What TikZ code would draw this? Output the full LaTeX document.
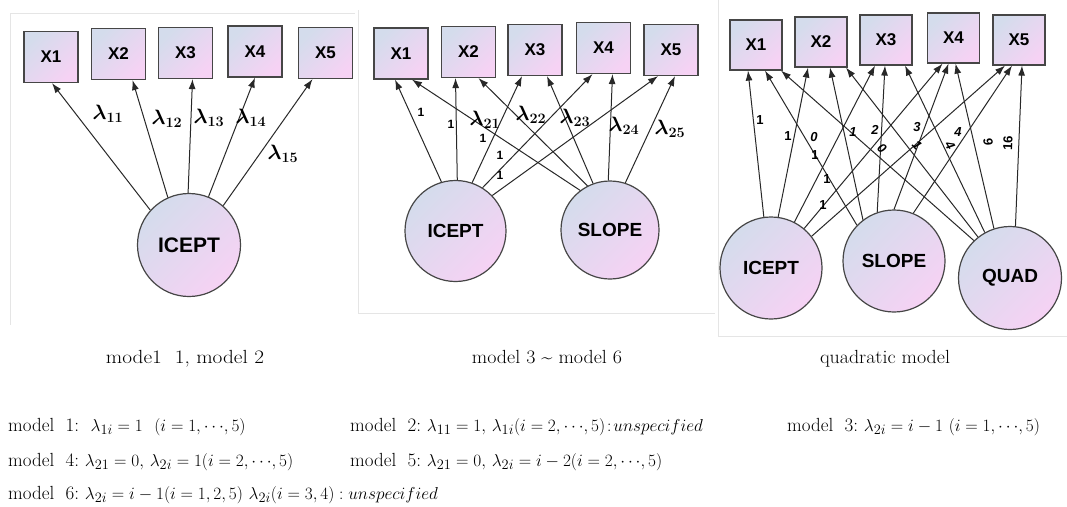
\documentclass[tikz,border=0pt]{standalone}
\usepackage{fontspec}
\usepackage{amsmath,amssymb}
\newfontfamily\arial{Liberation Sans}
\usetikzlibrary{arrows.meta}
\definecolor{gA}{RGB}{212,220,236}
\definecolor{gB}{RGB}{246,210,244}
\definecolor{ln}{RGB}{40,40,40}
\definecolor{bd}{RGB}{70,70,70}
\tikzset{
 obs/.style={draw=bd, line width=1.2pt, minimum width=54pt, minimum height=51pt, top color=gA, bottom color=gB, shading angle=45, font=\arial\bfseries\fontsize{17}{17}\selectfont, inner sep=0pt},
 lat/.style={circle, draw=bd, line width=1.2pt, minimum size=101pt, top color=gA, bottom color=gB, shading angle=45, font=\arial\bfseries\fontsize{19}{19}\selectfont, inner sep=0pt},
 arr/.style={-{Latex[length=10pt,width=7pt]}, line width=1pt, draw=ln},
 lam/.style={font=\fontsize{20}{20}\selectfont\boldmath, inner sep=0pt},
 one/.style={font=\arial\bfseries\fontsize{12}{12}\selectfont, inner sep=0pt},
 onep/.style={font=\arial\bfseries\fontsize{13}{13}\selectfont, inner sep=0pt},
 onei/.style={font=\arial\bfseries\itshape\fontsize{13}{13}\selectfont, inner sep=0pt},
 captxt/.style={font=\fontsize{19}{19}\selectfont, inner sep=0pt, anchor=base},
 eq/.style={anchor=base west, font=\fontsize{19}{19}\selectfont, inner sep=0pt},
 frame/.style={draw=black!10, line width=0.8pt}
}
\begin{document}
\begin{tikzpicture}[x=1pt,y=-1pt]
\useasboundingbox (0,0) rectangle (1067,506);
\fill[white] (0,0) rectangle (1067,506);
% faint panel frames
\draw[frame] (10,13) -- (10,325);
\draw[frame] (10,13) -- (355,13);
\draw[frame] (358,10) -- (358,313) -- (715,313);
\draw[frame] (718,0) -- (718,336) -- (1067,336);

% ---------- panel 1 ----------
\node[obs] (a1) at (51,57) {X1};
\node[obs] (a2) at (118.5,54) {X2};
\node[obs] (a3) at (185.5,53) {X3};
\node[obs] (a4) at (255,51.5) {X4};
\node[obs] (a5) at (325.5,53) {X5};
\node[lat, minimum size=103pt, font=\arial\bfseries\fontsize{21}{21}\selectfont] (ai) at (189,245) {ICEPT};
\draw[arr] (ai.138) -- ([xshift=1pt]a1.south);
\draw[arr] (ai.114) -- ([xshift=14pt]a2.south);
\draw[arr] (ai.91) -- ([xshift=7pt]a3.south);
\draw[arr] (ai.68) -- (a4.south);
\draw[arr] (ai.49) -- ([xshift=-13pt]a5.south);
\node[lam] (l11) at (108,114) {$\lambda_{11}$};
\node[lam] (l12) at (167,119) {$\lambda_{12}$};
\node[lam] (l13) at (209,118) {$\lambda_{13}$};
\node[lam] (l14) at (251,118) {$\lambda_{14}$};
\node[lam] (l15) at (283,154) {$\lambda_{15}$};
\node[captxt] (c1) at (185,363) {\scalebox{1.12}[1]{mode1\ \ 1, model 2}};

% ---------- panel 2 ----------
\node[obs] (b1) at (401,53.5) {X1};
\node[obs] (b2) at (468.5,52) {X2};
\node[obs] (b3) at (535,50) {X3};
\node[obs] (b4) at (603.5,48) {X4};
\node[obs] (b5) at (671,50) {X5};
\node[lat] (bi) at (455.5,231) {ICEPT};
\node[lat, minimum size=98pt] (bs) at (610,230) {SLOPE};
\draw[arr] (bi.106) -- ([xshift=-6pt]b1.south);
\draw[arr] (bi.88) -- ([xshift=-13pt]b2.south);
\draw[arr] (bi.71) -- ([xshift=-13pt]b3.south);
\draw[arr] (bi.58) -- ([xshift=-11pt]b4.south);
\draw[arr] (bi.44) -- ([xshift=-13pt]b5.south);
\draw[arr] (bs.127) -- ([xshift=11pt]b1.south);
\draw[arr] (bs.117) -- ([xshift=10pt]b2.south);
\draw[arr] (bs.110) -- ([xshift=12pt]b3.south);
\draw[arr] (bs.92) -- ([xshift=9pt]b4.south);
\draw[arr] (bs.72) -- ([xshift=4pt]b5.south);
\node[one] (o1) at (421,112) {1};
\node[one] (o2) at (451,124) {1};
\node[one] (o3) at (483,138) {1};
\node[one] (o4) at (500,155) {1};
\node[one] (o5) at (500,175) {1};
\node[lam] (l21) at (485,120) {$\lambda_{21}$};
\node[lam] (l22) at (531,115) {$\lambda_{22}$};
\node[lam] (l23) at (575,118) {$\lambda_{23}$};
\node[lam] (l24) at (624,126) {$\lambda_{24}$};
\node[lam] (l25) at (670,129) {$\lambda_{25}$};
\node[captxt] (c2) at (547,363) {\scalebox{1.05}[1]{model 3 \textasciitilde\ model 6}};

% ---------- panel 3 ----------
\node[obs, minimum width=52pt, minimum height=50pt] (q1) at (756,45) {X1};
\node[obs, minimum width=52pt, minimum height=50pt] (q2) at (821,42) {X2};
\node[obs, minimum width=52pt, minimum height=50pt] (q3) at (886,40) {X3};
\node[obs, minimum width=52pt, minimum height=50pt] (q4) at (953.5,38) {X4};
\node[obs, minimum width=52pt, minimum height=50pt] (q5) at (1019,40) {X5};
\node[lat, minimum size=102pt] (qi) at (771,268) {ICEPT};
\node[lat, minimum size=102pt] (qs) at (894,261) {SLOPE};
\node[lat, minimum size=103pt] (qq) at (1010,278) {QUAD};
% ICEPT
\draw[arr] (qi.98) -- ([xshift=-8pt]q1.south);
\draw[arr] (qi.82) -- ([xshift=-13pt]q2.south);
\draw[arr] (qi.63) -- ([xshift=-11pt]q3.south);
\draw[arr] (qi.50) -- ([xshift=-11pt]q4.south);
\draw[arr] (qi.38) -- ([xshift=-14pt]q5.south);
% SLOPE
\draw[arr] (qs.136) -- ([xshift=9pt]q1.south);
\draw[arr] (qs.127) -- ([xshift=9pt]q2.south);
\draw[arr] (qs.109) -- ([xshift=-1pt]q3.south);
\draw[arr] (qs.90) -- ([xshift=-5pt]q4.south);
\draw[arr] (qs.68) -- ([xshift=-7pt]q5.south);
% QUAD
\draw[arr] (qq.134) -- ([xshift=25pt]q1.south);
\draw[arr] (qq.128) -- ([xshift=25pt]q2.south);
\draw[arr] (qq.119) -- ([xshift=19pt]q3.south);
\draw[arr] (qq.108) -- ([xshift=2pt]q4.south);
\draw[arr] (qq.84) -- ([xshift=3pt]q5.south);
% labels
\node[onep] (r1) at (760,120) {1};
\node[onep] (r2) at (788,136) {1};
\node[onep] (r3) at (815,155) {1};
\node[onep] (r4) at (827,179) {1};
\node[onep] (r5) at (823,205) {1};
\node[onei] (s1) at (814,137) {0};
\node[onei] (s2) at (853,132) {1};
\node[onei] (s3) at (875,130) {2};
\node[onei] (s4) at (917,127) {3};
\node[onei] (s5) at (958,132) {4};
\node[onei, rotate=-40] (t1) at (882,148) {0};
\node[onei, rotate=-48] (t2) at (917,145) {1};
\node[onei, rotate=-60] (t3) at (950,145) {4};
\node[onei, rotate=-75] (t4) at (988,142) {9};
\node[onep, rotate=88] (t5) at (1008,143) {16};
\node[captxt] (c3) at (885,363) {\scalebox{1.05}[1]{quadratic model}};

% ---------- bottom text ----------
\node[eq] (m1) at (8,431) {model\ \ 1:\ \ $\lambda_{1i}=1\ \ (i=1,\cdots\!,5)$};
\node[eq] (m2) at (350,431) {model\ \ 2:\ $\lambda_{11}=1,\,\lambda_{1i}(i=2,\cdots\!,5)\!:\!unspecified$};
\node[eq] (m3) at (787,431) {model\ \ 3:\ $\lambda_{2i}=i-1\ (i=1,\cdots\!,5)$};
\node[eq] (m4) at (8,466) {model\ \ 4:\ $\lambda_{21}=0,\,\lambda_{2i}=1(i=2,\cdots\!,5)$};
\node[eq] (m5) at (350,466) {model\ \ 5:\ $\lambda_{21}=0,\,\lambda_{2i}=i-2(i=2,\cdots\!,5)$};
\node[eq] (m6) at (8,499) {model\ \ 6:\ $\lambda_{2i}=i-1(i=1,2,5)\ \lambda_{2i}(i=3,4): unspecified$};
\end{tikzpicture}
\end{document}
